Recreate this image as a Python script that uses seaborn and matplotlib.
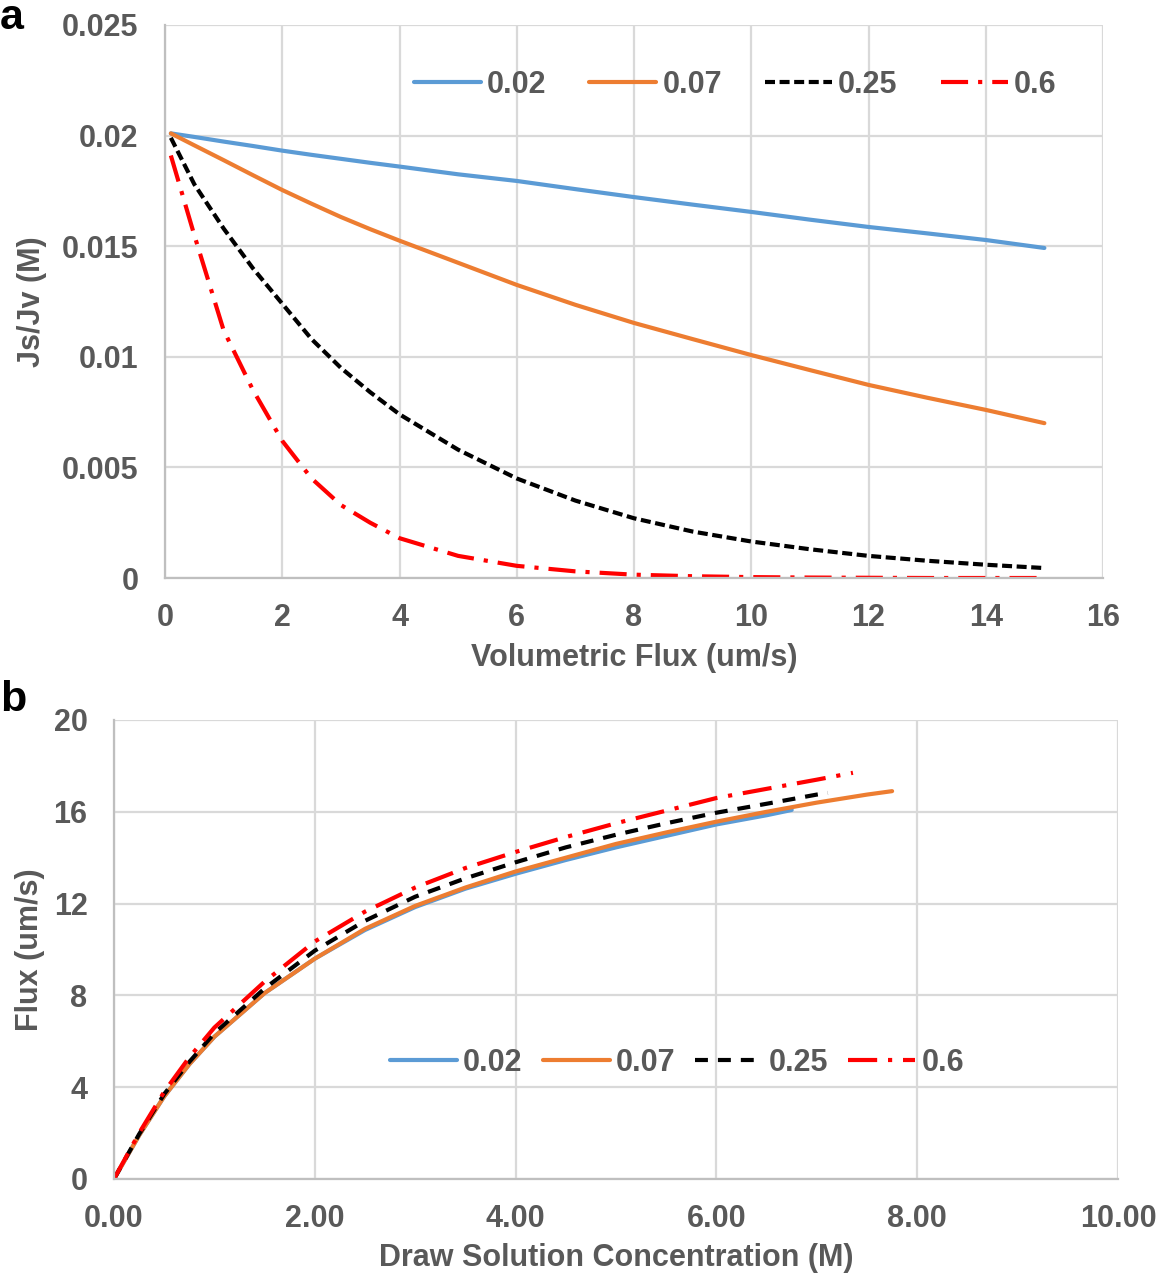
import numpy as np
import pandas as pd
import matplotlib
matplotlib.use("Agg")
import matplotlib.pyplot as plt
import seaborn as sns

# ---------------- data: panel a ----------------
series_names = ["0.02", "0.07", "0.25", "0.6"]
a_x = [0.1, 0.5, 1, 1.5, 2, 2.5, 3, 3.5, 4, 5, 6, 7, 8, 9, 10, 11, 12, 13, 14, 15]
a_002 = [0.0201, 0.01994, 0.01973, 0.01953, 0.01932, 0.01913, 0.01895, 0.01877, 0.0186, 0.01825,
         0.01795, 0.01758, 0.01722, 0.01688, 0.01655, 0.0162, 0.01587, 0.01558, 0.01528, 0.01492]
a_007 = [0.0201, 0.01956, 0.01889, 0.01821, 0.01754, 0.01692, 0.01632, 0.01577, 0.01525, 0.01425,
         0.01325, 0.01235, 0.01153, 0.0108, 0.01008, 0.0094, 0.00873, 0.00815, 0.0076, 0.0070]
a_025 = [0.0199, 0.0178, 0.0158, 0.0140, 0.0124, 0.0108, 0.0095, 0.0084, 0.0074, 0.0058,
         0.0045, 0.0035, 0.0027, 0.0021, 0.00165, 0.0013, 0.0010, 0.00078, 0.0006, 0.00045]
a_06 = [0.0191, 0.0155, 0.0112, 0.0085, 0.0062, 0.0045, 0.0033, 0.0025, 0.0018, 0.0010,
        0.00055, 0.0003, 0.00015, 0.00008, 0.00004, 0.00002, 0.00001, 0.0, 0.0, 0.0]

# ---------------- data: panel b ----------------
b_x_002 = [0, 0.25, 0.5, 0.75, 1.0, 1.5, 2.0, 2.5, 3.0, 3.5, 4.0, 4.5, 5.0, 5.5, 6.0, 6.5, 6.75]
b_y_002 = [0, 1.9, 3.6, 5.0, 6.2, 8.1, 9.6, 10.85, 11.85, 12.65, 13.3, 13.9, 14.45, 14.95, 15.45, 15.85, 16.08]
b_x_007 = [0, 0.25, 0.5, 0.75, 1.0, 1.5, 2.0, 2.5, 3.0, 3.5, 4.0, 4.5, 5.0, 5.5, 6.0, 6.5, 7.0, 7.5, 7.75]
b_y_007 = [0, 1.9, 3.6, 5.0, 6.2, 8.1, 9.6, 10.9, 11.9, 12.7, 13.4, 14.0, 14.6, 15.1, 15.57, 16.0, 16.4, 16.75, 16.9]
b_x_025 = [0, 0.25, 0.5, 0.75, 1.0, 1.5, 2.0, 2.5, 3.0, 3.5, 4.0, 4.5, 5.0, 5.5, 6.0, 6.5, 7.0, 7.11]
b_y_025 = [0, 1.95, 3.7, 5.1, 6.35, 8.3, 9.95, 11.25, 12.3, 13.1, 13.8, 14.45, 15.0, 15.5, 15.96, 16.35, 16.75, 16.82]
b_x_06 = [0, 0.25, 0.5, 0.75, 1.0, 1.5, 2.0, 2.5, 3.0, 3.5, 4.0, 4.5, 5.0, 5.5, 6.0, 6.5, 7.0, 7.36]
b_y_06 = [0, 2.0, 3.8, 5.3, 6.6, 8.6, 10.35, 11.65, 12.7, 13.55, 14.25, 14.9, 15.5, 16.05, 16.6, 17.0, 17.4, 17.7]

a_xticks = [0, 2, 4, 6, 8, 10, 12, 14, 16]
a_yticks = [0, 0.005, 0.01, 0.015, 0.02, 0.025]
a_yticklabels = ["0", "0.005", "0.01", "0.015", "0.02", "0.025"]
b_xticks = [0, 2, 4, 6, 8, 10]
b_xticklabels = ["0.00", "2.00", "4.00", "6.00", "8.00", "10.00"]
b_yticks = [0, 4, 8, 12, 16, 20]

# ---------------- styling ----------------
sns.set_theme(style="white")
plt.rcParams['font.family'] = ['Liberation Sans', 'DejaVu Sans']
plt.rcParams['font.weight'] = 'bold'

TXT = "#595959"
GRID = "#d9d9d9"
FS = 22
palette = {"0.02": "#5B9BD5", "0.07": "#ED7D31", "0.25": "#000000", "0.6": "#FF0000"}
LW = 3.0

df_a = pd.DataFrame({
    "x": a_x * 4,
    "y": a_002 + a_007 + a_025 + a_06,
    "series": sum([[n] * len(a_x) for n in series_names], []),
})
df_b = pd.DataFrame({
    "x": b_x_002 + b_x_007 + b_x_025 + b_x_06,
    "y": b_y_002 + b_y_007 + b_y_025 + b_y_06,
    "series": ["0.02"] * len(b_x_002) + ["0.07"] * len(b_x_007)
              + ["0.25"] * len(b_x_025) + ["0.6"] * len(b_x_06),
})

fig = plt.figure(figsize=(11.56, 12.75), dpi=100)
W, H = 1156, 1275
def rect(l, t, r, b):
    return [l / W, 1 - b / H, (r - l) / W, (b - t) / H]

ax_a = fig.add_axes(rect(165, 25, 1103, 578))
ax_b = fig.add_axes(rect(114, 720, 1118, 1179))

dashes_a = {"0.02": "", "0.07": "", "0.25": (2.4, 1.1), "0.6": (6.5, 2.4, 1.0, 2.4)}
dashes_b = {"0.02": "", "0.07": "", "0.25": (3.1, 2.4), "0.6": (7.0, 2.6, 1.0, 2.6)}

sns.lineplot(data=df_a, x="x", y="y", hue="series", style="series",
             hue_order=series_names, style_order=series_names,
             palette=palette, dashes=dashes_a, linewidth=LW, sort=False,
             estimator=None, legend=False, ax=ax_a)
sns.lineplot(data=df_b, x="x", y="y", hue="series", style="series",
             hue_order=series_names, style_order=series_names,
             palette=palette, dashes=dashes_b, linewidth=LW, sort=False,
             estimator=None, legend=False, ax=ax_b)

def style_axes(ax, xlim, ylim, xticks, xtl, yticks, ytl):
    ax.set_xlim(*xlim)
    ax.set_ylim(*ylim)
    ax.set_xticks(xticks)
    ax.set_xticklabels(xtl)
    ax.set_yticks(yticks)
    ax.set_yticklabels(ytl)
    ax.grid(True, color=GRID, linewidth=1.6)
    ax.set_axisbelow(True)
    for s in ["top", "right"]:
        ax.spines[s].set_visible(False)
    for s in ["left", "bottom"]:
        ax.spines[s].set_color("#bfbfbf")
        ax.spines[s].set_linewidth(1.6)
    ax.tick_params(axis="both", length=0, labelsize=FS, labelcolor=TXT)
    ax.tick_params(axis="y", pad=19)
    ax.tick_params(axis="x", pad=18)
    for t in ax.get_xticklabels() + ax.get_yticklabels():
        t.set_fontweight("bold")

style_axes(ax_a, (0, 16), (0, 0.025), a_xticks, [str(v) for v in a_xticks], a_yticks, a_yticklabels)
style_axes(ax_b, (0, 10), (0, 20), b_xticks, b_xticklabels, b_yticks, [str(v) for v in b_yticks])

ax_a.set_xlabel("Volumetric Flux (um/s)", fontsize=FS, fontweight="bold", color=TXT, va="center")
ax_a.set_ylabel("Js/Jv (M)", fontsize=FS, fontweight="bold", color=TXT, va="center")
ax_a.xaxis.set_label_coords(0.5, (578 - 658) / 553)
ax_a.yaxis.set_label_coords((32 - 165) / 938, 0.5)

ax_b.set_xlabel("Draw Solution Concentration (M)", fontsize=FS, fontweight="bold", color=TXT, va="center")
ax_b.set_ylabel("Flux (um/s)", fontsize=FS, fontweight="bold", color=TXT, va="center")
ax_b.xaxis.set_label_coords(0.5, (1179 - 1258) / 459)
ax_b.yaxis.set_label_coords((30 - 114) / 1004, 0.5)

leg_a = ax_a.legend(handles=ax_a.lines[:4], labels=series_names, ncol=4, frameon=False,
                    loc="center", bbox_to_anchor=((735 - 165) / 938, (578 - 85) / 553),
                    fontsize=FS, handlelength=2.2, handletextpad=0.2, columnspacing=1.4,
                    borderaxespad=0)
leg_b = ax_b.legend(handles=ax_b.lines[:4], labels=series_names, ncol=4, frameon=False,
                    loc="center", bbox_to_anchor=((677 - 114) / 1004, (1179 - 1063) / 459),
                    fontsize=FS, handlelength=2.2, handletextpad=0.2, columnspacing=0.65,
                    borderaxespad=0)
for leg in (leg_a, leg_b):
    for t in leg.get_texts():
        t.set_color(TXT)
        t.set_fontweight("bold")

fig.text(0.0, 1 - 18 / H, "a", fontsize=31, fontweight="bold", color="black", ha="left", va="center")
fig.text(0.0, 1 - 700 / H, "b", fontsize=31, fontweight="bold", color="black", ha="left", va="center")

fig.savefig("out.png", dpi=100)
